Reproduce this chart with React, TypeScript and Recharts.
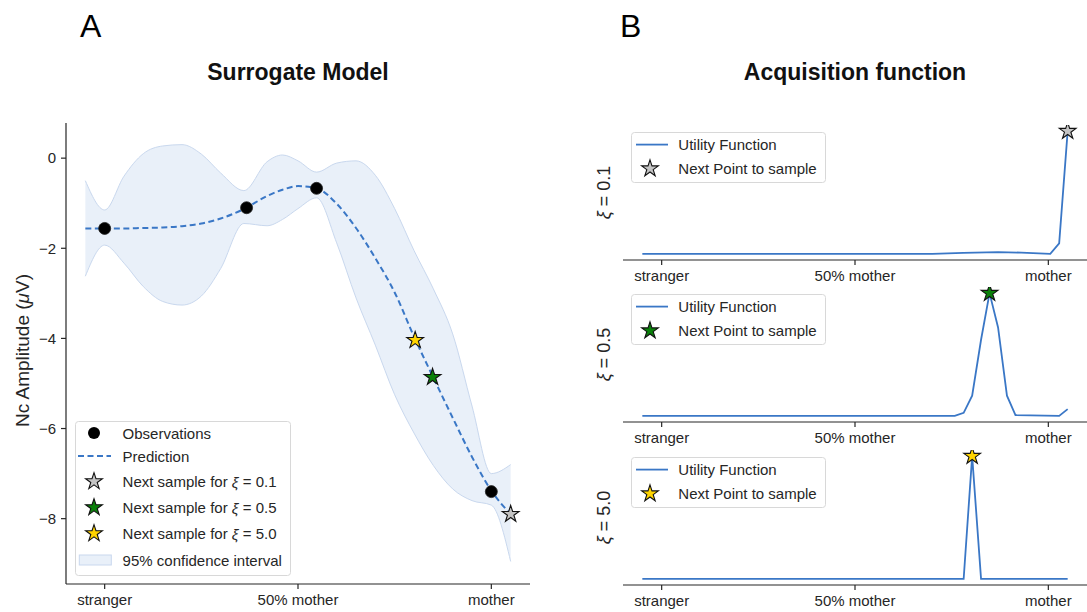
import React from 'react';
import { ComposedChart, Area, Line, Scatter, XAxis, YAxis, Label } from 'recharts';

const FONT = '"Liberation Sans", Arial, Helvetica, sans-serif';
const BLUE = '#3a77c6';
const INK = '#262626';

// panel A: surrogate model
const SURR_X = [-0.05, 0, 0.05, 0.1, 0.15, 0.2, 0.25, 0.3, 0.36, 0.42, 0.46, 0.5, 0.548, 0.6, 0.65, 0.7, 0.75, 0.8, 0.85, 0.9, 0.95, 1.0, 1.05];
const PREDICTION = [-1.56, -1.56, -1.56, -1.55, -1.54, -1.51, -1.45, -1.34, -1.13, -0.84, -0.7, -0.62, -0.67, -1.01, -1.55, -2.22, -2.98, -3.96, -4.87, -5.76, -6.63, -7.38, -7.9];
const CI_UPPER = [-0.5, -1.15, -0.4, 0.1, 0.27, 0.3, 0.09, -0.33, -0.72, -0.08, 0.07, -0.06, -0.31, -0.11, -0.06, -0.38, -1.12, -2.05, -2.9, -3.9, -5.5, -7.0, -6.8];
const CI_LOWER = [-2.62, -1.93, -2.33, -2.85, -3.18, -3.26, -3.06, -2.45, -1.45, -1.5, -1.36, -1.12, -0.88, -1.88, -3.1, -4.15, -5.25, -6.1, -6.82, -7.34, -7.6, -7.7, -8.95];

const OBS_X = [0, 0.367, 0.548, 1.0];
const OBS_Y = [-1.56, -1.1, -0.67, -7.4];

const XI_LABELS = ['0.1', '0.5', '5.0'];
const NEXT_X = [1.05, 0.848, 0.803];
const NEXT_Y = [-7.9, -4.86, -4.04];
const STAR_FILLS = ['#c4c4c4', '#0a800a', '#ffd400'];

const X_TICKS = [0, 0.5, 1];
const X_TICK_LABELS = ['stranger', '50% mother', 'mother'];
const Y_TICKS = [-8, -6, -4, -2, 0];

// panel B: acquisition (utility, normalised to its peak)
const UTIL_X = [
  [-0.05, 0.7, 0.78, 0.87, 0.93, 1.005, 1.028, 1.05],
  [-0.05, 0.758, 0.781, 0.803, 0.826, 0.848, 0.87, 0.893, 0.915, 1.028, 1.05],
  [-0.05, 0.781, 0.803, 0.826, 1.05],
];
const UTIL_Y = [
  [0, 0, 0.008, 0.014, 0.01, 0, 0.086, 1.0],
  [0, 0, 0.025, 0.164, 0.62, 1.0, 0.72, 0.164, 0.006, 0, 0.055],
  [0, 0, 1.0, 0, 0],
];

const surrogate = SURR_X.map((x, i) => ({ x, pred: PREDICTION[i], band: [CI_LOWER[i], CI_UPPER[i]] }));
const observations = OBS_X.map((x, i) => ({ x, y: OBS_Y[i] }));

const fmtX = (v: number) => X_TICK_LABELS[X_TICKS.indexOf(v)] ?? '';
const fmtY = (v: number) => (v < 0 ? '\u2212' + Math.abs(v) : String(v));

function starPath(cx: number, cy: number, R: number) {
  const r = R * 0.382;
  let d = '';
  for (let k = 0; k < 10; k++) {
    const rad = k % 2 === 0 ? R : r;
    const a = -Math.PI / 2 + (k * Math.PI) / 5;
    d += (k === 0 ? 'M' : 'L') + (cx + rad * Math.cos(a)).toFixed(2) + ',' + (cy + rad * Math.sin(a)).toFixed(2);
  }
  return d + 'Z';
}

const makeStar = (fill: string) => (props: any) => (
  <path d={starPath(props.cx, props.cy, 8.8)} fill={fill} stroke="#111" strokeWidth={1.1} />
);
const obsDot = (props: any) => <circle cx={props.cx} cy={props.cy} r={6} fill="#000" stroke="#222" strokeWidth={0.8} />;

const tickStyle = { fill: INK, fontSize: 15, fontFamily: FONT };
const axisLine = { stroke: INK, strokeWidth: 1.2 };
const tickLine = { stroke: INK, strokeWidth: 1.2 };

function xAxisProps() {
  return {
    dataKey: 'x',
    type: 'number' as const,
    domain: [-0.1, 1.1],
    ticks: X_TICKS,
    tickFormatter: fmtX,
    height: 28,
    allowDataOverflow: true,
    axisLine,
    tickLine,
    tickSize: 5,
    tickMargin: 5,
    tick: tickStyle,
    interval: 0 as const,
  };
}

function SurrogateChart() {
  return (
    <ComposedChart width={560} height={612} data={surrogate} margin={{ top: 123, right: 30, bottom: 0, left: 0 }}>
      <XAxis {...xAxisProps()} />
      <YAxis
        type="number"
        domain={[-9.45, 0.78]}
        ticks={Y_TICKS}
        tickFormatter={fmtY}
        width={66}
        allowDataOverflow
        axisLine={axisLine}
        tickLine={tickLine}
        tickSize={5}
        tickMargin={5}
        tick={tickStyle}
        interval={0}
      >
        <Label
          content={(p: any) => {
            const cx = p.viewBox.x + 22;
            const cy = p.viewBox.y + p.viewBox.height / 2 - 3;
            return (
              <text x={cx} y={cy} transform={`rotate(-90 ${cx} ${cy})`} textAnchor="middle" dominantBaseline="central" fill={INK} fontSize={19} fontFamily={FONT}>
                Nc Amplitude (<tspan fontStyle="italic">μ</tspan>V)
              </text>
            );
          }}
        />
      </YAxis>
      <Area dataKey="band" type="monotone" fill={BLUE} fillOpacity={0.11} stroke="#c9d8ee" strokeWidth={1} isAnimationActive={false} />
      <Line dataKey="pred" type="monotone" stroke={BLUE} strokeWidth={2} strokeDasharray="6 3.5" dot={false} activeDot={false} isAnimationActive={false} />
      <Scatter data={observations} dataKey="y" shape={obsDot} isAnimationActive={false} />
      {NEXT_X.map((x, i) => (
        <Scatter key={i} data={[{ x, y: NEXT_Y[i] }]} dataKey="y" shape={makeStar(STAR_FILLS[i])} isAnimationActive={false} />
      ))}
    </ComposedChart>
  );
}

function UtilityPanel({ idx }: { idx: number }) {
  const xs = UTIL_X[idx];
  const ys = UTIL_Y[idx];
  const rows = xs.map((x, i) => ({ x, u: ys[i] }));
  const peak = Math.max(...ys);
  const next = [{ x: xs[ys.indexOf(peak)], y: peak }];
  return (
    <ComposedChart width={530} height={168} data={rows} margin={{ top: 5, right: 3, bottom: 0, left: 25 }}>
      <XAxis {...xAxisProps()} />
      <YAxis type="number" domain={[-0.05, 1.05]} width={38} tick={false} axisLine={false} tickLine={false} allowDataOverflow>
        <Label
          content={(p: any) => {
            const cx = p.viewBox.x + p.viewBox.width / 2;
            const cy = p.viewBox.y + p.viewBox.height / 2;
            return (
              <text x={cx} y={cy} transform={`rotate(-90 ${cx} ${cy})`} textAnchor="middle" dominantBaseline="central" fill={INK} fontSize={18} fontFamily={FONT}>
                <tspan fontStyle="italic">ξ</tspan> = {XI_LABELS[idx]}
              </text>
            );
          }}
        />
      </YAxis>
      <Line dataKey="u" type="linear" stroke={BLUE} strokeWidth={1.8} dot={false} activeDot={false} isAnimationActive={false} />
      <Scatter data={next} dataKey="y" shape={makeStar(STAR_FILLS[idx])} isAnimationActive={false} />
    </ComposedChart>
  );
}

function SurrogateLegend() {
  const rows = [12, 35, 60.5, 86.5, 112.5, 139];
  const hx = 19;
  const tx = 47.6;
  const txt = { fill: INK, fontSize: 15, fontFamily: FONT, dominantBaseline: 'central' as const };
  return (
    <svg width={217} height={156} style={{ position: 'absolute', left: 75, top: 421 }}>
      <rect x={0.5} y={0.5} width={215} height={154} rx={3} fill="#fff" fillOpacity={0.8} stroke="#d8d8d8" />
      <circle cx={hx} cy={rows[0]} r={6} fill="#000" />
      <text x={tx} y={rows[0]} {...txt}>Observations</text>
      <line x1={3} x2={36} y1={rows[1]} y2={rows[1]} stroke={BLUE} strokeWidth={2} strokeDasharray="6 3.5" />
      <text x={tx} y={rows[1]} {...txt}>Prediction</text>
      {XI_LABELS.map((xi, i) => (
        <g key={xi}>
          <path d={starPath(hx, rows[2 + i], 8.8)} fill={STAR_FILLS[i]} stroke="#111" strokeWidth={1.1} />
          <text x={tx} y={rows[2 + i]} {...txt}>
            Next sample for <tspan fontStyle="italic">ξ</tspan> = {xi}
          </text>
        </g>
      ))}
      <rect x={4.3} y={rows[5] - 5} width={32} height={10} fill={BLUE} fillOpacity={0.11} stroke="#c9d8ee" />
      <text x={tx} y={rows[5]} {...txt}>95% confidence interval</text>
    </svg>
  );
}

function UtilityLegend({ idx, top }: { idx: number; top: number }) {
  const txt = { fill: INK, fontSize: 15, fontFamily: FONT, dominantBaseline: 'central' as const };
  return (
    <svg width={196} height={52} style={{ position: 'absolute', left: 631, top }}>
      <rect x={0.5} y={0.5} width={194} height={50} rx={3} fill="#fff" fillOpacity={0.8} stroke="#d8d8d8" />
      <line x1={5} x2={37} y1={12.6} y2={12.6} stroke={BLUE} strokeWidth={1.8} />
      <text x={47.3} y={12.6} {...txt}>Utility Function</text>
      <path d={starPath(19, 36.6, 8.8)} fill={STAR_FILLS[idx]} stroke="#111" strokeWidth={1.1} />
      <text x={47.3} y={36.6} {...txt}>Next Point to sample</text>
    </svg>
  );
}

const PANEL_TOPS = [124.5, 287, 449.5];

export default function App() {
  return (
    <div style={{ position: 'absolute', left: 0, top: 0, width: 1087, height: 612, overflow: 'hidden', background: '#fff', fontFamily: FONT }}>
      <div style={{ position: 'absolute', left: 0, top: 0 }}>
        <SurrogateChart />
      </div>
      {PANEL_TOPS.map((t, i) => (
        <div key={i} style={{ position: 'absolute', left: 560, top: t - 5 }}>
          <UtilityPanel idx={i} />
        </div>
      ))}
      <SurrogateLegend />
      {PANEL_TOPS.map((t, i) => (
        <UtilityLegend key={i} idx={i} top={t + 7} />
      ))}
      <svg width={1087} height={100} style={{ position: 'absolute', left: 0, top: 0, pointerEvents: 'none' }}>
        <text x={80} y={37} fontSize={32} fill="#000" fontFamily={FONT}>A</text>
        <text x={620} y={37} fontSize={32} fill="#000" fontFamily={FONT}>B</text>
        <text x={298} y={80} fontSize={23} fontWeight="bold" fill="#111" textAnchor="middle" fontFamily={FONT}>Surrogate Model</text>
        <text x={855} y={80} fontSize={23} fontWeight="bold" fill="#111" textAnchor="middle" fontFamily={FONT}>Acquisition function</text>
      </svg>
    </div>
  );
}
